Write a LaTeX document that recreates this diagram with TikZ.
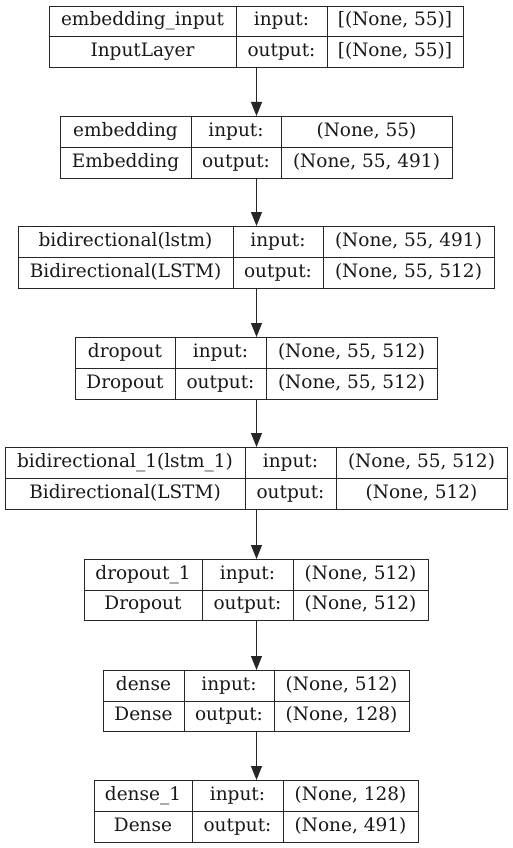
\documentclass[tikz,border=0pt]{standalone}
\usepackage{fontspec}
\setmainfont{DejaVu Serif}
\usetikzlibrary{arrows.meta}
\tikzset{
    %Define standard arrow tip
    >={Triangle[length=14pt,width=11pt]},
    %Define style for layer boxes
    layerbox/.style={
           rectangle,
           draw=black!85, line width=1pt,
           inner sep=0pt,
           anchor=north west},
    celltext/.style={
           inner sep=0pt,
           font=\fontsize{18.5}{20}\selectfont,
           text height=13.5pt,
           text depth=4pt,
           text=black!90,
           text centered},
    % Define arrow style
    pil/.style={
           ->,
           draw=black!85,
           line width=1pt,
           shorten <=0pt,
           shorten >=0pt,}
}

\begin{document}
\begin{tikzpicture}[x=1pt,y=-1pt]
\useasboundingbox (0,0) rectangle (512,848);
% one box per layer: top/bottom/left/right/dividers/texts
\foreach \id/\yt/\yb/\xl/\xr/\xa/\xb/\lname/\lclass/\shin/\shout in {
  1/6/67/49/463/236/327/embedding\_input/InputLayer/{[(None, 55)]}/{[(None, 55)]},
  2/116/178/60/452/191/281/embedding/Embedding/{(None, 55)}/{(None, 55, 491)},
  3/226/288/18/494/233/323/bidirectional(lstm)/Bidirectional(LSTM)/{(None, 55, 491)}/{(None, 55, 512)},
  4/337/399/75/437/175/266/dropout/Dropout/{(None, 55, 512)}/{(None, 55, 512)},
  5/447/509/5/507/245/336/bidirectional\_1(lstm\_1)/Bidirectional(LSTM)/{(None, 55, 512)}/{(None, 512)},
  6/559/620/84/428/202/293/dropout\_1/Dropout/{(None, 512)}/{(None, 512)},
  7/670/731/103/409/184/274/dense/Dense/{(None, 512)}/{(None, 128)},
  8/780/842/94/418/192/283/dense\_1/Dense/{(None, 128)}/{(None, 491)}}{
  \node[layerbox, minimum width={(\xr-\xl)*1pt}, minimum height={(\yb-\yt)*1pt}] (L\id) at (\xl,\yt) {};
  \draw[draw=black!85, line width=1pt] (L\id.west) -- (L\id.east)
     (\xa,\yt) -- (\xa,\yb) (\xb,\yt) -- (\xb,\yb);
  \node[celltext] (L\id-name) at ({(\xl+\xa)/2},{(3*\yt+\yb)/4}) {\lname};
  \node[celltext] (L\id-class) at ({(\xl+\xa)/2},{(\yt+3*\yb)/4}) {\lclass};
  \node[celltext] (L\id-in) at ({(\xa+\xb)/2},{(3*\yt+\yb)/4}) {input:};
  \node[celltext] (L\id-out) at ({(\xa+\xb)/2},{(\yt+3*\yb)/4}) {output:};
  \node[celltext] (L\id-shin) at ({(\xb+\xr)/2},{(3*\yt+\yb)/4}) {\shin};
  \node[celltext] (L\id-shout) at ({(\xb+\xr)/2},{(\yt+3*\yb)/4}) {\shout};
}
\foreach \i [evaluate=\i as \j using int(\i+1)] in {1,...,7}
  \draw[pil] (L\i.south) -- (L\j.north);
\end{tikzpicture}
\end{document}
